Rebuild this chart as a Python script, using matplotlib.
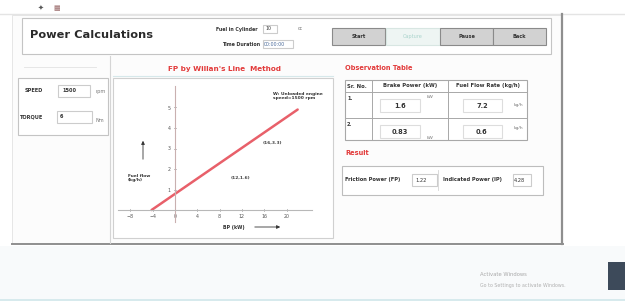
import matplotlib
matplotlib.use("Agg")
import matplotlib.pyplot as plt
from matplotlib.patches import Rectangle, FancyArrowPatch

# ---- values ----
speed_rpm = "1500"
torque_nm = "6"
fuel_cc = "10"
time_sec = "00:00:00"
buttons = ["Start", "Capture", "Pause", "Back"]

table_header = ["Sr. No.", "Brake Power (kW)", "Fuel Flow Rate (kg/h)"]
sr_no = ["1.", "2."]
brake_power = ["1.6", "0.83"]
fuel_flow = ["7.2", "0.6"]
friction_power = "1.22"
indicated_power = "4.28"

line_x = [-4.2, 22.0]        # Willan's line, BP axis
line_y = [0.0, 4.9]          # fuel flow axis
x_ticks = [-8, -4, 0, 4, 8, 12, 16, 20]
y_ticks = [1, 2, 3, 4, 5]
pt_labels = ["(16,3.3)", "(12,1.6)"]
pt_x = [17.4, 11.8]
pt_y = [3.27, 1.56]

RED = "#e23a3a"
GRAY = "#555555"

fig = plt.figure(figsize=(6.25, 3.04), dpi=100)
fig.patch.set_facecolor("white")
bg = fig.add_axes([0, 0, 1, 1])
bg.set_xlim(0, 625); bg.set_ylim(304, 0); bg.axis("off")


def box(x, y, w, h, fc="white", ec="#c8c8c8", lw=0.8, z=1):
    bg.add_patch(Rectangle((x, y), w, h, facecolor=fc, edgecolor=ec, lw=lw, zorder=z))


def txt(x, y, s, size=3.6, color="#333333", weight="bold", ha="left", **kw):
    bg.text(x, y, s, fontsize=size, color=color, weight=weight, ha=ha, va="center", **kw)


# window areas
txt(38, 8, "✦", size=5, color="#555555")
txt(53, 8, "▦", size=5, color="#9a6a6a")
bg.plot([0, 625], [14, 14], color="#e4e4e4", lw=1.0)
box(12, 15, 550, 228, fc="#fcfcfc", ec="#e2e2e2", lw=0.6)
bg.plot([562, 562], [14, 244], color="#8f8f8f", lw=1.6)
bg.plot([12, 563], [243.5, 243.5], color="#8f8f8f", lw=1.4)
box(0, 246, 625, 53, fc="#f8fafb", ec="none")
bg.plot([0, 625], [300, 300], color="#cfe6ea", lw=1.2)

# top panel
box(22, 18, 529, 36, fc="white", ec="#c4c4c4")
txt(30, 35, "Power Calculations", size=8.2, color="#2a2a2a")
txt(258, 29, "Fuel in Cylinder", size=3.4, ha="right")
box(263, 25, 14, 8, ec="#cccccc")
txt(265, 29, fuel_cc, size=3.4, weight="normal")
txt(298, 29, "cc", size=3.4, weight="normal", color="#777777")
txt(260, 44, "Time Duration", size=3.4, ha="right")
box(263, 40, 30, 8, ec="#cccccc")
txt(264, 44, time_sec, size=3.4, weight="normal", color="#4a6a9a")
bx = [332, 386, 440, 493]
for b, s in zip(bx, buttons):
    if s == "Capture":
        box(b, 28, 54, 17, fc="#eef5f3", ec="#d8e6e2")
        txt(b + 27, 36.5, s, color="#a9d3cc", weight="normal", ha="center")
    else:
        box(b, 28, 53, 17, fc="#d2d2d2", ec="#8a8a8a")
        txt(b + 26.5, 36.5, s, color="#333333", ha="center")

# left inputs
bg.plot([24, 96], [67, 67], color="#e2e2e2", lw=0.6)
box(18, 78, 90, 57, fc="white", ec="#c4c4c4")
txt(25, 91, "SPEED")
box(58, 85, 32, 12, ec="#cccccc")
txt(62, 91, speed_rpm)
txt(95, 92, "rpm", weight="normal", color="#777777")
txt(20, 117, "TORQUE")
box(57, 111, 35, 12, ec="#cccccc")
txt(60, 117, torque_nm)
txt(95, 120, "Nm", weight="normal", color="#777777")
bg.plot([110, 110], [56, 243], color="#d5d5d5", lw=0.8)

# chart frame
txt(225, 69, "FP by Willan's Line  Method", size=5.2, color=RED, ha="center")
box(113, 78, 220, 160, fc="white", ec="#d0d0d0")
bg.plot([113, 333], [76, 76], color="#d6e8ea", lw=0.8)

# observation table
txt(345, 68, "Observation Table", size=4.8, color=RED)
box(345, 80, 182, 60, fc="white", ec="#a8a8a8")
for c in [372, 448]:
    bg.plot([c, c], [80, 140], color="#a8a8a8", lw=0.7)
for r in [92, 118]:
    bg.plot([345, 527], [r, r], color="#a8a8a8", lw=0.7)
txt(347, 86, table_header[0], size=3.8)
txt(410, 86, table_header[1], size=3.8, ha="center")
txt(488, 86, table_header[2], size=3.8, ha="center")
row_y = [105, 131]
unit_bp_y = [97, 138]
unit_ff_y = [105, 128]
for i in range(2):
    yc = row_y[i]
    txt(347, yc - 6, sr_no[i], size=3.6)
    box(380, yc - 6, 40, 13, ec="#dddddd")
    txt(400, yc + 0.5, brake_power[i], size=4.8, ha="center")
    txt(427, unit_bp_y[i], "kW", size=3.2, weight="normal", color="#777777")
    box(463, yc - 6, 39, 13, ec="#dddddd")
    txt(482, yc + 0.5, fuel_flow[i], size=4.8, ha="center")
    txt(514, unit_ff_y[i], "kg/h", size=3.2, weight="normal", color="#777777")

# result
txt(345, 153, "Result", size=4.8, color=RED)
box(342, 166, 201, 29, fc="white", ec="#bdbdbd")
txt(345, 180, "Friction Power (FP)", size=3.7)
box(412, 174, 25, 12, ec="#cccccc")
txt(415, 180, friction_power, size=3.7, weight="normal")
bg.plot([438, 438], [170, 190], color="#d5d5d5", lw=0.6)
txt(443, 180, "Indicated Power (IP)", size=3.7)
box(513, 174, 18, 12, ec="#cccccc")
txt(514, 180, indicated_power, size=3.7, weight="normal")

# windows watermark
txt(480, 275, "Activate Windows", size=3.8, weight="normal", color="#a8a8a8")
txt(480, 285, "Go to Settings to activate Windows.", size=3.4, weight="normal", color="#b0b0b0")
bg.add_patch(Rectangle((608, 262), 17, 28, facecolor="#3d4a5a", edgecolor="none", zorder=2))

# ---- Willan's line chart ----
x0, x1, y0, y1 = 118, 312, 86, 222
ax = fig.add_axes([x0 / 625, 1 - y1 / 304, (x1 - x0) / 625, (y1 - y0) / 304])
ax.set_xlim((x0 - 175) / 5.575, (x1 - 175) / 5.575)
ax.set_ylim(-(y1 - 210) / 20.5, (210 - y0) / 20.5)
ax.patch.set_alpha(0)
for s in ["top", "right"]:
    ax.spines[s].set_visible(False)
ax.spines["left"].set_position(("data", 0))
ax.spines["bottom"].set_position(("data", 0))
ax.spines["left"].set_color("#c9b0b0")
ax.spines["bottom"].set_color("#b8b8b8")
ax.spines["left"].set_linewidth(0.8)
ax.spines["bottom"].set_linewidth(0.8)
ax.set_xticks(x_ticks)
ax.set_yticks(y_ticks)
ax.tick_params(labelsize=3.4, colors=GRAY, length=2, width=0.5, direction="inout", pad=2)
ax.plot(line_x, line_y, color="#e8606a", lw=1.8, solid_capstyle="round")
for lx, ly, s in zip(pt_x, pt_y, pt_labels):
    ax.text(lx, ly, s, fontsize=3.2, color="#444444", weight="bold", ha="center", va="center")
ax.text(17.5, 5.55, "W: Unloaded engine\nspeed=1500 rpm", fontsize=3.2, color="#333333",
        weight="bold", ha="left", va="center", linespacing=1.1)

txt(128, 178, "Fuel flow\n(kg/h)", size=3.2, linespacing=1.1)
bg.add_patch(FancyArrowPatch((143, 162), (143, 138), arrowstyle="-|>", mutation_scale=5,
                             color="#333333", lw=0.6, zorder=5))
txt(223, 228, "BP (kW)", size=3.4)
bg.add_patch(FancyArrowPatch((252, 227), (283, 227), arrowstyle="-|>", mutation_scale=5,
                             color="#333333", lw=0.6, zorder=5))

fig.savefig("out.png", dpi=100)
